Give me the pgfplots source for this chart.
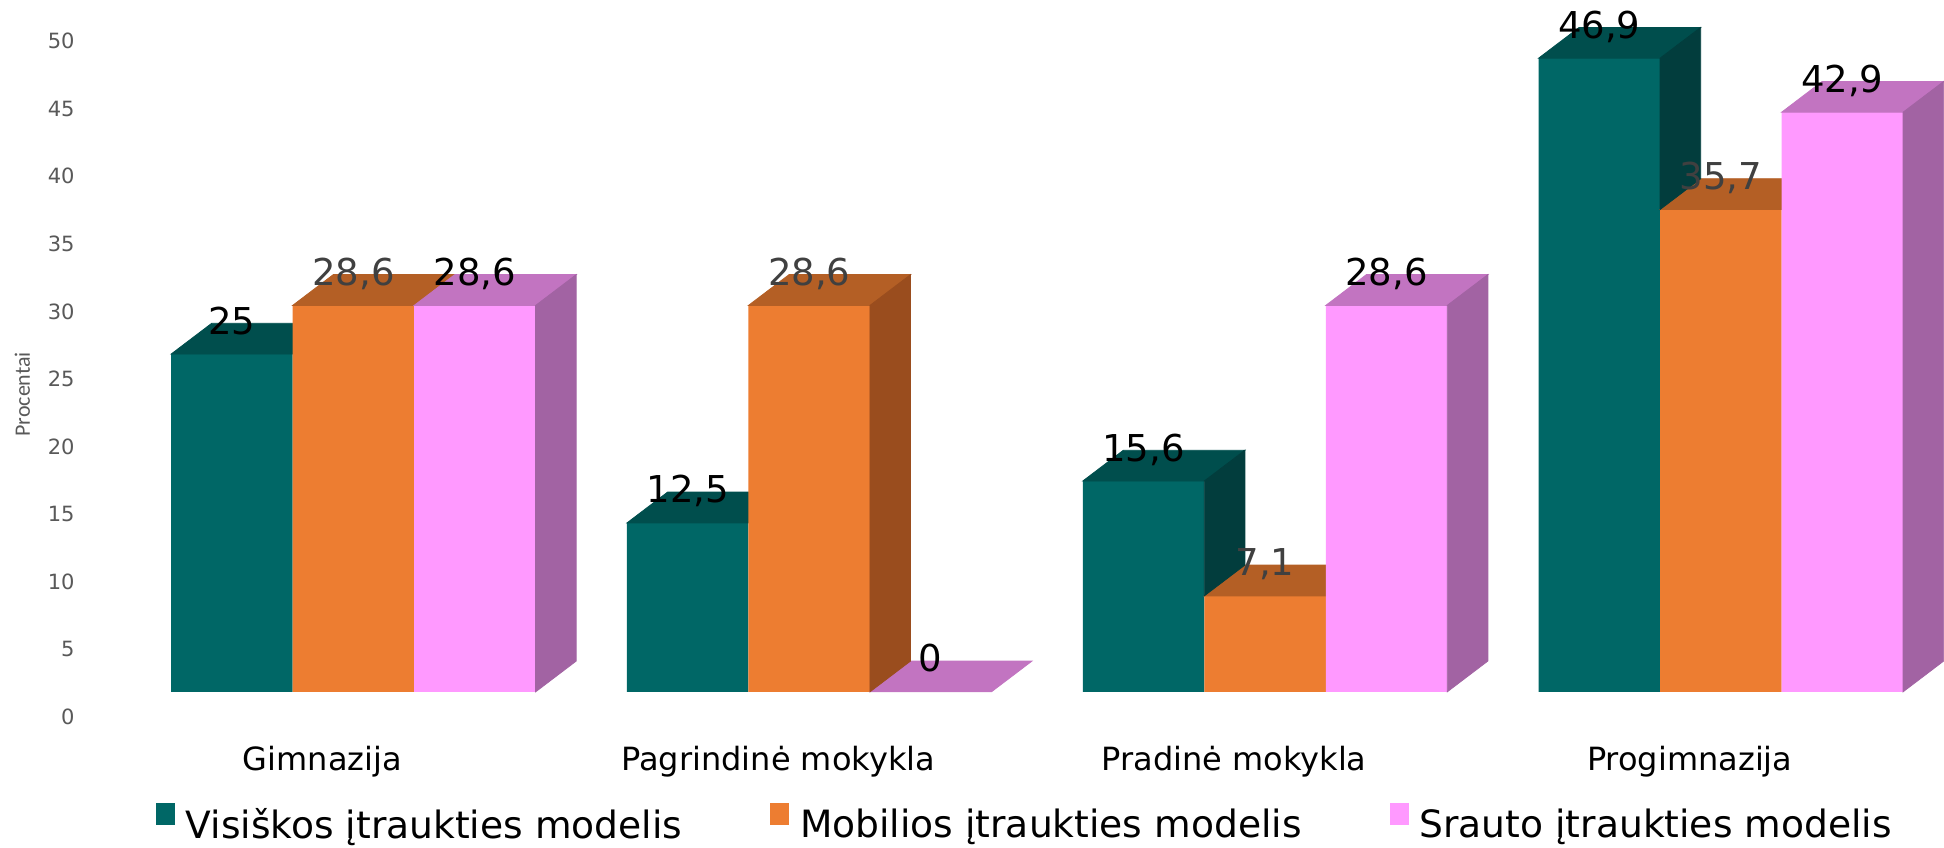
\documentclass[border=0pt]{standalone}
\usepackage{pgfplots}
\pgfplotsset{compat=1.18}
\usepackage{pgfplotstable}
\usepackage{fontspec}
\setmainfont{DejaVu Sans}
\newfontfamily\carlito{Carlito}

\definecolor{tealF}{HTML}{006766}
\definecolor{tealT}{HTML}{004E4D}
\definecolor{tealS}{HTML}{023D3D}
\definecolor{orF}{HTML}{ED7D31}
\definecolor{orT}{HTML}{B45F25}
\definecolor{orS}{HTML}{9A4D1E}
\definecolor{piF}{HTML}{FF99FF}
\definecolor{piT}{HTML}{C274C1}
\definecolor{piS}{HTML}{A263A3}
\definecolor{tickgray}{HTML}{595959}
\definecolor{lblgray}{HTML}{404040}

\pgfplotstableread{
x visi mob srau nul
0 25   28.6 28.6 0
1 12.5 28.6 0    0
2 15.6 7.1  28.6 0
3 46.9 35.7 42.9 0
}\datatable

\pgfdeclareplotmark{nothing}{}

\def\myBW{60.75}
\def\myDX{20.3}
\def\myDY{15.4}
\def\myYU{6.755}

\pgfplotsset{
  front/.style n args={2}{ybar, bar width=\myBW pt, bar shift=#1pt, fill=#2, draw=none},
  labels/.style n args={2}{only marks, mark=nothing, forget plot,
    nodes near coords,
    every node near coord/.append style={anchor=base, xshift=#1pt, yshift=10pt, inner sep=0pt,
       font=\fontsize{18.5}{22}\selectfont, text=#2}},
  topface/.style n args={2}{scatter, only marks, mark=nothing, forget plot,
    scatter/@pre marker code/.code={%
      \pgfmathsetmacro\myxl{#1-0.5*\myBW}%
      \pgfmathsetmacro\myxr{#1+0.5*\myBW}%
      \pgfmathsetmacro\myxlr{\myxl+\myDX}%
      \pgfmathsetmacro\myxrr{\myxr+\myDX}%
      \fill[#2] (\myxl pt,0pt) -- (\myxr pt,0pt) -- (\myxrr pt,\myDY pt) -- (\myxlr pt,\myDY pt) -- cycle;},
    scatter/@post marker code/.code={}},
  sideface/.style n args={4}{scatter, only marks, mark=nothing, forget plot,
    visualization depends on={\thisrow{#3} \as \myrawy},
    visualization depends on={\thisrow{#4} \as \mynexty},
    scatter/@pre marker code/.code={%
      \begingroup
      \pgfkeys{/pgf/fpu=true,/pgf/fpu/output format=fixed}%
      \pgfmathparse{(\myrawy-\mynexty)*\myYU}\xdef\mydh{\pgfmathresult}%
      \endgroup
      \pgfmathsetmacro\myxr{#1+0.5*\myBW}%
      \pgfmathsetmacro\myxrr{\myxr+\myDX}%
      \pgfmathsetmacro\myyb{\myDY-\mydh}%
      \ifdim\mydh pt>0.01pt
        \fill[#2] (\myxr pt,0pt) -- (\myxrr pt,\myDY pt) -- (\myxrr pt,\myyb pt) -- (\myxr pt,-\mydh pt) -- cycle;
      \fi},
    scatter/@post marker code/.code={}},
}

\begin{document}
\begin{tikzpicture}
\begin{axis}[
  scale only axis, width=972pt, height=424pt,
  xmin=-0.7753, xmax=3.4897, ymin=-11.56, ymax=51.21,
  axis line style={draw=none}, major tick length=0pt, tick style={draw=none},
  clip marker paths=true,
  /pgf/number format/.cd, use comma, 1000 sep={}, assume math mode=true, /pgfplots/.cd,
  xtick={-0.068,0.932,1.932,2.932},
  xticklabels={Gimnazija,Pagrindinė mokykla,Pradinė mokykla,Progimnazija},
  xticklabel style={anchor=base, yshift=38.5pt, inner sep=0pt, font=\fontsize{16}{19}\selectfont, text=black},
  ytick={-1.84,3.16,8.16,13.16,18.16,23.16,28.16,33.16,38.16,43.16,48.16},
  yticklabels={0,5,10,15,20,25,30,35,40,45,50},
  yticklabel style={anchor=east, xshift=37.5pt, inner sep=0pt, font=\fontsize{10.5}{12}\selectfont, text=tickgray},
  legend columns=3,
  legend cell align=left,
  legend style={at={(0.0802,0.0075)}, anchor=south west, draw=none, fill=none, inner sep=0pt, outer sep=0pt,
    font=\fontsize{18.8}{22}\selectfont,
    nodes={inner sep=0pt},
    /tikz/every odd column/.append style={column sep=5.5pt},
    /tikz/every even column/.append style={column sep=44pt}},
]
\addplot[front={-60.75}{tealF}, legend image code/.code={\fill[tealF] (0pt,0pt) rectangle (9.5pt,11pt);}] table[x=x,y=visi]{\datatable};
\addlegendentry{Visiškos įtraukties modelis}
\addplot[topface={-60.75}{tealT}] table[x=x,y=visi]{\datatable};

\addplot[front={0}{orF}, legend image code/.code={\fill[orF] (0pt,0pt) rectangle (9.5pt,11pt);}] table[x=x,y=mob]{\datatable};
\addlegendentry{Mobilios įtraukties modelis}
\addplot[topface={0}{orT}] table[x=x,y=mob]{\datatable};

\addplot[front={60.75}{piF}, legend image code/.code={\fill[piF] (0pt,0pt) rectangle (9.5pt,11pt);}] table[x=x,y=srau]{\datatable};
\addlegendentry{Srauto įtraukties modelis}
\addplot[topface={60.75}{piT}] table[x=x,y=srau]{\datatable};

\addplot[sideface={-60.75}{tealS}{visi}{mob}] table[x=x,y=visi]{\datatable};
\addplot[sideface={0}{orS}{mob}{srau}] table[x=x,y=mob]{\datatable};
\addplot[sideface={60.75}{piS}{srau}{nul}] table[x=x,y=srau]{\datatable};

\addplot[labels={-60.75}{black}] table[x=x,y=visi]{\datatable};
\addplot[labels={0}{lblgray}] table[x=x,y=mob]{\datatable};
\addplot[labels={60.75}{black}] table[x=x,y=srau]{\datatable};

\node[rotate=90, text=tickgray, font=\carlito\fontsize{11}{13}\selectfont] at (rel axis cs:0.0115,0.535) {Procentai};
\coordinate (bbsw) at (rel axis cs:0,0);
\coordinate (bbne) at (rel axis cs:1,1);
\end{axis}
\pgfresetboundingbox
\path[use as bounding box] (bbsw) rectangle (bbne);
\end{tikzpicture}
\end{document}
